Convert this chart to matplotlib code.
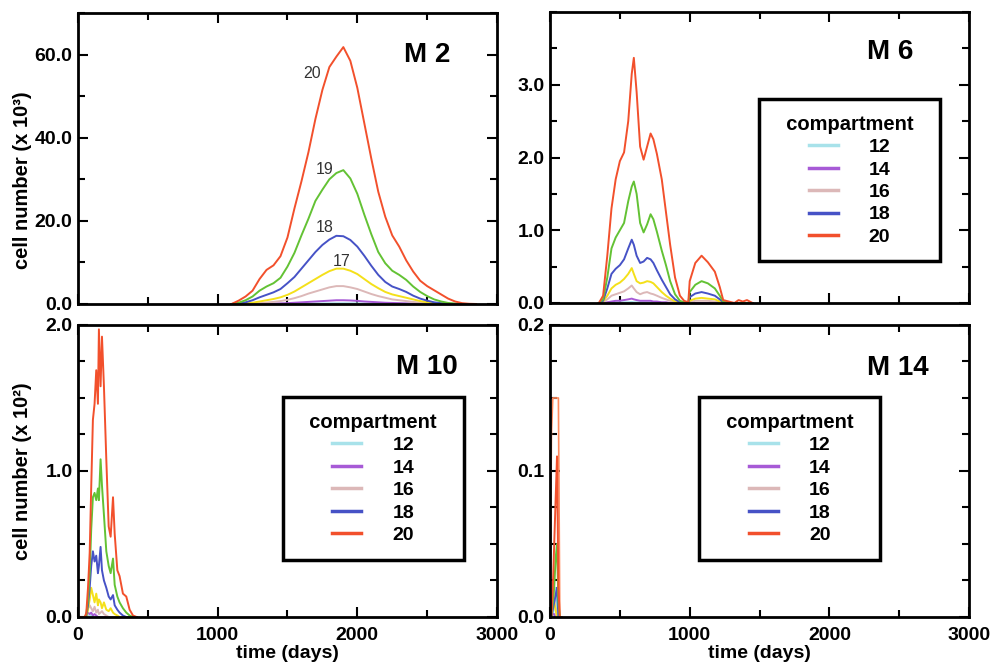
import numpy as np
import matplotlib.pyplot as plt
from matplotlib.ticker import MultipleLocator, FormatStrFormatter, FixedLocator

plt.rcParams['font.family'] = ['Liberation Sans', 'DejaVu Sans']
plt.rcParams['font.weight'] = 'bold'

comps = [12, 14, 16, 17, 18, 19, 20]
legend_comps = [12, 14, 16, 18, 20]
colors = {12: '#a8e2ea', 14: '#a75ad6', 16: '#dcb8b8', 17: '#f4e01a',
          18: '#4652c6', 19: '#63c234', 20: '#f2502c'}

# ---- M 2 (x 10^3) ----
t_m2 = list(range(1100, 2900, 50))
m2_c20 = [0, 0.8, 1.8, 3.2, 6.0, 8.2, 9.3, 11.5, 16.0, 23.0, 29.5, 36.5, 44.5, 51.5, 57.0, 59.5, 61.8, 58.5,
          52.0, 43.5, 35.0, 27.0, 21.0, 16.5, 13.8, 10.5, 7.8, 5.6, 4.3, 3.3, 2.3, 1.3, 0.6, 0.2, 0.05, 0]
m2_c19 = [0, 0.3, 0.9, 1.8, 3.2, 4.2, 5.0, 6.3, 9.0, 12.3, 16.5, 20.5, 24.8, 27.5, 30.0, 31.5, 32.2, 30.2,
          26.5, 21.5, 16.8, 12.5, 9.8, 8.0, 7.0, 5.8, 4.2, 2.9, 1.9, 1.1, 0.6, 0.25, 0.1, 0, 0, 0]
m2_c18 = [0, 0.1, 0.4, 0.9, 1.6, 2.2, 2.8, 3.6, 5.0, 6.5, 8.5, 10.5, 12.5, 14.2, 15.5, 16.4, 16.3, 15.4,
          13.8, 11.6, 9.2, 7.0, 5.3, 4.2, 3.6, 2.9, 2.0, 1.3, 0.8, 0.4, 0.2, 0.05, 0, 0, 0, 0]
m2_c17 = [0, 0, 0.1, 0.3, 0.6, 0.9, 1.2, 1.6, 2.2, 3.0, 4.0, 5.0, 6.0, 7.0, 7.9, 8.5, 8.5, 8.0,
          7.2, 6.0, 4.8, 3.8, 2.9, 2.3, 1.9, 1.5, 1.1, 0.7, 0.4, 0.2, 0.1, 0, 0, 0, 0, 0]
m2_c16 = [0, 0, 0, 0.1, 0.2, 0.35, 0.5, 0.7, 1.0, 1.4, 1.9, 2.5, 3.0, 3.5, 4.0, 4.3, 4.3, 4.0,
          3.6, 3.0, 2.4, 1.9, 1.5, 1.1, 0.9, 0.7, 0.5, 0.3, 0.2, 0.1, 0.05, 0, 0, 0, 0, 0]
m2_c14 = [0, 0, 0, 0, 0.05, 0.08, 0.1, 0.15, 0.2, 0.3, 0.4, 0.5, 0.6, 0.7, 0.8, 0.9, 0.9, 0.85,
          0.75, 0.6, 0.5, 0.4, 0.3, 0.25, 0.2, 0.15, 0.1, 0.08, 0.05, 0.02, 0, 0, 0, 0, 0, 0]
m2_c12 = [0, 0, 0, 0, 0, 0.01, 0.02, 0.03, 0.04, 0.06, 0.08, 0.1, 0.12, 0.14, 0.16, 0.18, 0.18, 0.17,
          0.15, 0.12, 0.1, 0.08, 0.06, 0.05, 0.04, 0.03, 0.02, 0.01, 0.01, 0, 0, 0, 0, 0, 0, 0]

# ---- M 6 (x 10^3) ----
t_m6 = [350, 380, 410, 440, 470, 500, 530, 560, 585, 600, 620, 645, 670, 695, 720, 740, 765, 800, 830,
        860, 895, 930, 960, 990, 1000, 1040, 1085, 1130, 1180, 1215, 1240, 1280, 1320, 1350, 1380, 1410, 1450]
m6_c20 = [0, 0.1, 0.65, 1.3, 1.7, 1.95, 2.07, 2.5, 3.15, 3.37, 2.9, 2.15, 1.97, 2.15, 2.33, 2.25, 2.05, 1.7, 1.25,
          0.8, 0.35, 0.1, 0.03, 0.01, 0.3, 0.55, 0.65, 0.56, 0.43, 0.22, 0.04, 0.02, 0, 0.04, 0.02, 0.04, 0]
m6_c19 = [0, 0.05, 0.35, 0.75, 0.9, 1.0, 1.1, 1.4, 1.6, 1.67, 1.5, 1.1, 0.97, 1.08, 1.22, 1.15, 0.98, 0.72, 0.52,
          0.3, 0.12, 0.03, 0.01, 0, 0.15, 0.25, 0.3, 0.27, 0.2, 0.1, 0.02, 0, 0, 0, 0, 0, 0]
m6_c18 = [0, 0.03, 0.2, 0.4, 0.47, 0.52, 0.6, 0.75, 0.87, 0.8, 0.65, 0.55, 0.57, 0.62, 0.6, 0.55, 0.45, 0.32, 0.22,
          0.12, 0.05, 0.01, 0, 0, 0.08, 0.13, 0.15, 0.13, 0.1, 0.05, 0.01, 0, 0, 0, 0, 0, 0]
m6_c17 = [0, 0.02, 0.1, 0.2, 0.25, 0.28, 0.33, 0.4, 0.48, 0.4, 0.3, 0.27, 0.28, 0.3, 0.29, 0.27, 0.22, 0.15, 0.1,
          0.06, 0.02, 0, 0, 0, 0.03, 0.06, 0.07, 0.06, 0.05, 0.02, 0, 0, 0, 0, 0, 0, 0]
m6_c16 = [0, 0.01, 0.05, 0.1, 0.12, 0.14, 0.16, 0.2, 0.24, 0.2, 0.15, 0.12, 0.14, 0.15, 0.13, 0.12, 0.1, 0.07, 0.05,
          0.03, 0.01, 0, 0, 0, 0.01, 0.03, 0.03, 0.03, 0.02, 0.01, 0, 0, 0, 0, 0, 0, 0]
m6_c14 = [0, 0, 0.01, 0.02, 0.03, 0.03, 0.04, 0.05, 0.06, 0.05, 0.04, 0.03, 0.03, 0.03, 0.03, 0.02, 0.02, 0.01, 0.01,
          0, 0, 0, 0, 0, 0, 0, 0, 0, 0, 0, 0, 0, 0, 0, 0, 0, 0]
m6_c12 = [0, 0, 0, 0.005, 0.01, 0.01, 0.01, 0.01, 0.015, 0.01, 0.01, 0.01, 0.01, 0.01, 0.01, 0.005, 0.005, 0, 0,
          0, 0, 0, 0, 0, 0, 0, 0, 0, 0, 0, 0, 0, 0, 0, 0, 0, 0]

# ---- M 10 (x 10^2) ----
t_m10 = [0, 50, 60, 72, 84, 95, 107, 119, 131, 143, 150, 162, 172, 186, 203, 220, 234, 251, 263, 282,
         298, 322, 346, 370, 394, 420]
m10_c20 = [0, 0, 0.03, 0.2, 0.44, 0.89, 1.35, 1.46, 1.69, 1.46, 1.97, 1.58, 1.92, 1.58, 1.08, 0.62, 0.55, 0.82,
           0.57, 0.32, 0.28, 0.16, 0.14, 0.05, 0.01, 0]
m10_c19 = [0, 0, 0.02, 0.12, 0.3, 0.6, 0.82, 0.85, 0.8, 0.88, 0.8, 1.08, 0.9, 0.7, 0.45, 0.35, 0.3, 0.4,
           0.22, 0.14, 0.1, 0.06, 0.03, 0.01, 0, 0]
m10_c18 = [0, 0, 0.01, 0.08, 0.2, 0.35, 0.45, 0.38, 0.42, 0.3, 0.35, 0.48, 0.32, 0.25, 0.2, 0.14, 0.12, 0.15,
           0.08, 0.05, 0.03, 0.01, 0, 0, 0, 0]
m10_c17 = [0, 0, 0, 0.05, 0.12, 0.2, 0.15, 0.1, 0.16, 0.08, 0.12, 0.1, 0.06, 0.1, 0.05, 0.04, 0.06, 0.03,
           0.02, 0.01, 0, 0, 0, 0, 0, 0]
m10_c16 = [0, 0, 0.02, 0.06, 0.08, 0.06, 0.04, 0.07, 0.03, 0.05, 0.02, 0.03, 0.04, 0.02, 0.01, 0, 0, 0,
           0, 0, 0, 0, 0, 0, 0, 0]
m10_c14 = [0, 0, 0.01, 0.03, 0.02, 0.03, 0.01, 0.02, 0.01, 0, 0, 0, 0, 0, 0, 0, 0, 0,
           0, 0, 0, 0, 0, 0, 0, 0]
m10_c12 = [0, 0, 0, 0.01, 0.01, 0.01, 0, 0, 0, 0, 0, 0, 0, 0, 0, 0, 0, 0,
           0, 0, 0, 0, 0, 0, 0, 0]

# ---- M 14 ----
t_m14 = [0, 10, 20, 30, 40, 50, 60, 70, 80]
m14_extra = [0, 0.125, 0.15, 0.15, 0.15, 0.15, 0.15, 0, 0]
m14_c20 = [0, 0, 0.02, 0.05, 0.08, 0.11, 0.02, 0, 0]
m14_c19 = [0, 0, 0.01, 0.02, 0.04, 0.05, 0.01, 0, 0]
m14_c18 = [0, 0, 0.005, 0.01, 0.015, 0.02, 0, 0, 0]
m14_c17 = [0, 0.005, 0.02, 0.01, 0.005, 0, 0, 0, 0]
m14_c16 = [0, 0.005, 0.01, 0.01, 0.005, 0, 0, 0, 0]
m14_c14 = [0, 0, 0.002, 0.002, 0, 0, 0, 0, 0]
m14_c12 = [0, 0, 0, 0.01, 0.02, 0, 0, 0, 0]

fig = plt.figure(figsize=(9.93, 6.64), dpi=100)
W = 0.422
ax1 = fig.add_axes([0.0785, 0.5422, W, 0.4382])
ax2 = fig.add_axes([0.5539, 0.5437, W, 0.4382])
ax3 = fig.add_axes([0.0785, 0.0708, W, 0.4398])
ax4 = fig.add_axes([0.5539, 0.0708, W, 0.4398])

panels = [
    (ax1, t_m2, {12: m2_c12, 14: m2_c14, 16: m2_c16, 17: m2_c17, 18: m2_c18, 19: m2_c19, 20: m2_c20},
     70, [0, 20, 40, 60], 10, 'M 2', (0.833, 0.856)),
    (ax2, t_m6, {12: m6_c12, 14: m6_c14, 16: m6_c16, 17: m6_c17, 18: m6_c18, 19: m6_c19, 20: m6_c20},
     4.0, [0, 1, 2, 3], 0.5, 'M 6', (0.811, 0.863)),
    (ax3, t_m10, {12: m10_c12, 14: m10_c14, 16: m10_c16, 17: m10_c17, 18: m10_c18, 19: m10_c19, 20: m10_c20},
     2.0, [0, 1, 2], 0.25, 'M 10', (0.833, 0.856)),
    (ax4, t_m14, {12: m14_c12, 14: m14_c14, 16: m14_c16, 17: m14_c17, 18: m14_c18, 19: m14_c19, 20: m14_c20},
     0.2, [0, 0.1, 0.2], 0.025, 'M 14', (0.831, 0.853)),
]

for ax, t, series, ymax, yticks, ymin, name, pos in panels:
    handles = []
    if ax is ax4:
        ax.plot(t_m14, m14_extra, color='#ff8a5c', lw=1.2)
    for c in comps:
        line, = ax.plot(t, series[c], color=colors[c], lw=1.4)
        if c in legend_comps:
            handles.append(line)
    ax.set_xlim(0, 3000)
    ax.set_ylim(0, ymax)
    ax.xaxis.set_major_locator(MultipleLocator(1000))
    ax.xaxis.set_minor_locator(MultipleLocator(500))
    ax.yaxis.set_major_locator(FixedLocator(yticks))
    ax.yaxis.set_minor_locator(MultipleLocator(ymin))
    ax.yaxis.set_major_formatter(FormatStrFormatter('%.1f'))
    ax.tick_params(which='both', direction='in', top=True, right=True, width=1.5, labelsize=14)
    ax.tick_params(which='major', length=7)
    ax.tick_params(which='minor', length=5)
    ax.tick_params(axis='x', pad=7)
    ax.tick_params(axis='y', pad=4)
    for s in ax.spines.values():
        s.set_linewidth(2)
    ax.text(pos[0], pos[1], name, transform=ax.transAxes, ha='center', va='center',
            fontsize=20, fontweight='bold')
    if ax is not ax1:
        leg_pos = {ax2: (0.499, 0.701), ax3: (0.489, 0.753), ax4: (0.356, 0.753)}[ax]
        leg = ax.legend(handles, [str(c) for c in legend_comps], loc='upper left', bbox_to_anchor=leg_pos,
                        title='  compartment  ', prop={'weight': 'bold', 'size': 14},
                        title_fontproperties={'weight': 'bold', 'size': 14.5},
                        fancybox=False, edgecolor='black', framealpha=1, borderpad=0.8,
                        labelspacing=0.25, handlelength=1.5, handletextpad=1.6, borderaxespad=0)
        leg.get_frame().set_linewidth(2.5)
        for h in leg.get_lines():
            h.set_linewidth(2.5)

for ax in (ax1, ax2):
    ax.tick_params(axis='x', labelbottom=False)
for ax in (ax3, ax4):
    ax.set_xlabel('time (days)', fontsize=14, fontweight='bold', labelpad=1)

ax1.set_ylabel('cell number (x 10³)', fontsize=14.5, fontweight='bold')
ax1.yaxis.set_label_coords(-0.11, 0.426)
ax3.set_ylabel('cell number (x 10²)', fontsize=14.5, fontweight='bold')
ax3.yaxis.set_label_coords(-0.11, 0.5)

# curve labels in M 2
ax1.text(1675, 55.4, '20', fontsize=11.5, fontweight='normal', color='#333333', ha='center', va='center')
ax1.text(1768, 32.3, '19', fontsize=11.5, fontweight='normal', color='#333333', ha='center', va='center')
ax1.text(1768, 18.3, '18', fontsize=11.5, fontweight='normal', color='#333333', ha='center', va='center')
ax1.text(1888, 10.2, '17', fontsize=11.5, fontweight='normal', color='#333333', ha='center', va='center')

plt.savefig('out.png', dpi=100)
